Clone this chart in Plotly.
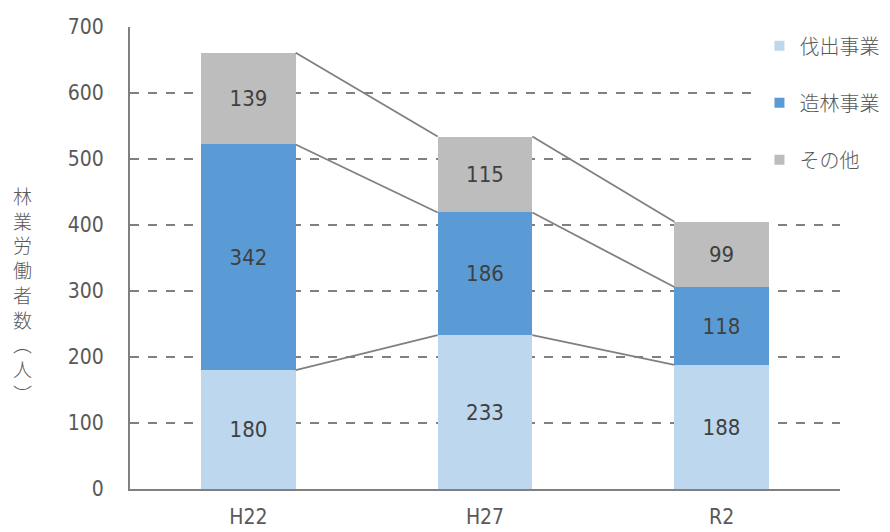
import plotly.graph_objects as go
import numpy as np

categories = ["H22", "H27", "R2"]
bassyutsu = [180, 233, 188]   # 伐出事業
zourin = [342, 186, 118]      # 造林事業
sonota = [139, 115, 99]       # その他
series_names = ["伐出事業", "造林事業", "その他"]
colors = ["#BDD7EE", "#5B9BD5", "#BDBDBD"]
y_ticks = [0, 100, 200, 300, 400, 500, 600, 700]
y_title = "林業労働者数︵人︶"

NUM = "DejaVu Sans Condensed, Liberation Sans Narrow, sans-serif"
JP = "Noto Sans CJK JP, sans-serif"

x = np.arange(len(categories))
bw = 0.4
series = [bassyutsu, zourin, sonota]

fig = go.Figure()
for name, vals, c in zip(series_names, series, colors):
    fig.add_trace(go.Bar(
        x=x, y=vals, width=bw, marker=dict(color=c, line=dict(width=0)),
        text=[str(v) for v in vals], textposition="inside",
        insidetextanchor="middle",
        textfont=dict(family=NUM, size=22, color="#404040"),
        showlegend=False, name=name,
    ))

# connector lines between cumulative tops
cum = np.cumsum(np.array(series), axis=0)
for row in cum:
    for i in range(len(categories) - 1):
        fig.add_trace(go.Scatter(
            x=[x[i] + bw / 2, x[i + 1] - bw / 2], y=[row[i], row[i + 1]],
            mode="lines", line=dict(color="#808080", width=1.8),
            showlegend=False, hoverinfo="skip",
        ))

# legend entries
for i, (name, c) in enumerate(zip(series_names, colors)):
    fig.add_trace(go.Scatter(
        x=[None], y=[None], mode="markers", name=name,
        marker=dict(symbol="square", size=10, color=c),
        legendgroup=f"g{i}", showlegend=True,
    ))

fig.update_layout(
    width=882, height=524,
    margin=dict(l=122, r=50, t=19, b=43, autoexpand=False),
    paper_bgcolor="white", plot_bgcolor="white",
    barmode="stack",
    bargap=0,
    font=dict(family=NUM, color="#595959"),
    showlegend=True,
    legend=dict(
        xref="container", yref="container",
        x=0.852, xanchor="left", y=0.965, yanchor="top",
        bgcolor="white", traceorder="grouped", tracegroupgap=28,
        font=dict(family=JP, size=20, color="#595959", weight=300),
        itemwidth=30,
    ),
    xaxis=dict(
        range=[-0.5, 2.5], tickvals=list(x), ticktext=categories,
        showgrid=False, zeroline=False,
        showline=True, linecolor="#808080", linewidth=2,
        ticks="", ticklabelstandoff=8,
        tickfont=dict(family=NUM, size=21, color="#595959"),
    ),
    yaxis=dict(
        range=[0, 700], tickvals=y_ticks,
        showgrid=True, gridcolor="#808080", griddash="dash", gridwidth=1.5,
        zeroline=False, showline=True, linecolor="#808080", linewidth=2,
        ticks="", ticklabelstandoff=20,
        tickfont=dict(family=NUM, size=21, color="#595959"),
    ),
    annotations=[dict(
        text="<br>".join(list(y_title)), xref="paper", yref="paper",
        x=-0.152, y=0.42, xanchor="center", yanchor="middle",
        showarrow=False, font=dict(family=JP, size=19, color="#595959", weight=300),
        align="center",
    )],
)

fig.write_html("out.html")
